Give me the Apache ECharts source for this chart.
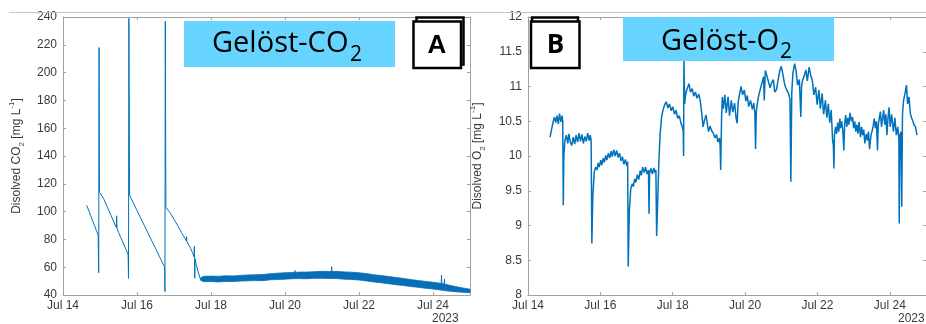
<!DOCTYPE html>
<html>
<head>
<meta charset="utf-8">
<script src="https://cdn.jsdelivr.net/npm/echarts@6/dist/echarts.min.js"></script>
<style>
html,body{margin:0;padding:0;background:#fff;}
#c{width:926px;height:324px;}
</style>
</head>
<body>
<div id="c"></div>
<script>
// ---------- DATA ----------
const xTickDays = [14, 16, 18, 20, 22, 24];
const xTickLabels = ['Jul 14', 'Jul 16', 'Jul 18', 'Jul 20', 'Jul 22', 'Jul 24'];
const yearLabel = '2023';

// Dissolved CO2 [mg/L] : [day of July, value]
const co2Points = [
  [14.64,104.5],[14.70,100.5],[14.75,97],[14.80,93.5],[14.85,90],[14.90,86.5],[14.95,83],
  [14.965,56],[14.975,218],[14.985,114],[15.02,114],[15.10,109.2],[15.20,103.1],[15.30,97.1],
  [15.40,91],[15.44,88.6],[15.45,97],[15.46,88],[15.50,85],[15.60,79],[15.70,73],[15.76,69],
  [15.77,52],[15.78,239],[15.80,112],[15.83,110],[15.90,106.3],[16.00,100.8],[16.10,95.3],
  [16.20,89.9],[16.30,84.4],[16.40,78.9],[16.50,73.5],[16.60,68],[16.70,62.6],[16.745,60.4],
  [16.755,42.5],[16.765,237],[16.78,103],[16.83,102.3],[16.90,99],[17.00,94.5],[17.10,90],
  [17.20,85],[17.30,80.5],[17.33,79],[17.34,82],[17.35,78.5],[17.40,76],[17.45,73.5],[17.50,70.5],
  [17.54,67.5],[17.55,75],[17.56,52],[17.57,66],[17.60,62],[17.65,57],[17.70,52.4],[17.73,50.8],
  [18.0,51.5],[18.5,51.6],[19.0,52.3],[19.5,53],[20.0,53.7],[20.26,54],[20.27,57.5],[20.28,54],
  [20.5,54.2],[21.0,54.5],[21.25,54.5],[21.26,60.4],[21.27,54.4],[22.0,53.4],[22.5,51.5],
  [23.0,49.9],[23.5,48.2],[24.0,46.7],[24.22,46],[24.23,54.4],[24.24,46],[24.30,45.8],
  [24.31,51.5],[24.32,45.5],[24.6,44.2],[25.0,42.8]
];

// Noise envelope of the CO2 signal after Jul 17.7
const co2BandDays = [17.72,17.8,18.0,18.2,18.4,18.6,18.8,19.0,19.2,19.4,19.6,19.8,20.0,20.2,20.4,20.6,20.8,21.0,21.2,21.4,21.6,21.8,22.0,22.2,22.4,22.6,22.8,23.0,23.2,23.4,23.6,23.8,24.0,24.2,24.4,24.6,24.8,25.0];
const co2BandLow  = [50.6,49.6,49.7,49.4,49.8,49.7,50.0,50.2,50.4,50.3,50.9,51.2,51.4,51.7,51.8,51.7,52.0,52.0,51.9,51.8,51.4,51.2,50.8,50.1,49.4,48.8,48.1,47.4,46.8,46.1,45.5,44.9,44.3,43.6,42.9,42.4,41.9,41.6];
const co2BandHigh = [52.4,53.4,53.6,53.5,53.8,53.7,54.1,54.4,54.6,54.7,55.3,55.7,56.0,56.2,56.5,56.5,56.8,57.0,56.9,57.0,56.6,56.4,56.0,55.4,54.6,54.0,53.3,52.6,51.9,51.1,50.4,49.8,49.2,48.4,47.3,46.1,45.1,44.2];

// Dissolved O2 [mg/L] : [day of July, value]
const o2Points = [
  [14.61,10.27],[14.65,10.38],[14.70,10.50],[14.73,10.56],[14.77,10.48],[14.80,10.58],[14.84,10.46],[14.87,10.61],[14.91,10.49],[14.94,10.58],[14.96,10.5],[14.975,9.29],[14.99,10.0],[15.02,10.22],
  [15.06,10.30],[15.10,10.18],[15.13,10.32],[15.17,10.20],[15.21,10.15],[15.25,10.27],[15.29,10.17],[15.33,10.30],[15.37,10.20],[15.41,10.33],[15.45,10.21],[15.49,10.31],[15.53,10.18],[15.57,10.28],[15.61,10.21],[15.65,10.33],[15.69,10.22],[15.72,10.30],[15.745,10.22],[15.765,8.74],[15.79,9.4],[15.83,9.77],
  [15.87,9.84],[15.91,9.80],[15.94,9.90],[15.97,9.84],[16.01,9.94],[16.04,9.87],[16.08,9.97],[16.11,9.91],[16.15,10.01],[16.18,9.94],[16.22,10.04],[16.26,9.97],[16.30,10.07],[16.33,9.99],[16.37,10.09],[16.41,10.00],[16.45,10.08],[16.49,9.98],[16.53,10.04],[16.57,9.93],[16.61,9.99],[16.65,9.88],[16.69,9.95],[16.73,9.86],[16.755,9.92],[16.77,8.41],[16.80,9.2],[16.84,9.53],
  [16.88,9.60],[16.91,9.56],[16.95,9.67],[16.98,9.62],[17.02,9.73],[17.06,9.66],[17.10,9.79],[17.13,9.72],[17.17,9.84],[17.21,9.76],[17.25,9.84],[17.29,9.74],[17.33,9.80],[17.345,9.17],[17.36,9.75],[17.40,9.82],[17.44,9.74],[17.48,9.83],[17.51,9.76],[17.535,9.80],[17.555,8.85],[17.59,9.45],[17.62,9.95],[17.65,10.30],[17.69,10.55],[17.73,10.66],[17.78,10.74],
  [17.82,10.78],[17.87,10.69],[17.91,10.75],[17.96,10.65],[18.00,10.71],[18.05,10.60],[18.09,10.66],[18.14,10.54],[18.18,10.58],[18.23,10.47],[18.27,10.41],[18.29,10.36],[18.30,10.00],[18.31,11.38],[18.33,10.75],[18.36,10.90],[18.40,10.97],[18.45,11.04],[18.49,10.92],[18.54,10.97],[18.58,10.86],[18.63,10.92],[18.67,10.83],[18.72,10.89],[18.76,10.80],
  [18.80,10.62],[18.84,10.42],[18.88,10.52],[18.92,10.59],[18.96,10.45],[18.99,10.35],[19.03,10.43],[19.08,10.36],[19.12,10.33],[19.17,10.26],[19.21,10.31],[19.25,10.20],[19.29,10.26],[19.31,10.15],[19.325,9.80],[19.35,10.55],[19.37,10.85],
  [19.40,10.68],[19.44,10.88],[19.48,10.62],[19.53,10.85],[19.57,10.58],[19.62,10.80],[19.66,10.63],[19.71,10.76],[19.75,10.55],[19.78,10.47],[19.81,10.78],[19.85,10.90],[19.89,11.00],[19.93,10.88],[19.98,10.95],[20.02,10.79],[20.06,10.87],[20.10,10.71],[20.15,10.80],[20.20,10.67],[20.24,10.76],[20.27,10.62],[20.29,10.10],[20.31,10.64],[20.34,10.76],
  [20.38,10.88],[20.42,10.96],[20.47,11.06],[20.51,11.14],[20.53,10.80],[20.56,11.23],[20.60,11.16],[20.64,11.08],[20.69,10.98],[20.73,11.05],[20.78,11.10],[20.82,10.92],[20.87,10.96],[20.91,11.09],[20.96,11.23],[21.00,11.29],[21.05,11.16],[21.09,11.04],[21.12,10.99],[21.16,10.94],[21.20,10.90],[21.24,10.82],[21.265,9.63],[21.29,10.90],[21.32,11.19],[21.37,11.33],[21.41,11.22],[21.45,11.02],[21.50,11.10],[21.54,10.56],[21.56,11.00],[21.59,11.09],[21.64,11.16],[21.68,11.24],[21.72,11.08],[21.77,11.28],[21.81,11.17],[21.86,11.08],[21.90,10.88],[21.95,10.99],[21.99,10.74],[22.04,10.95],[22.08,10.68],[22.13,10.90],[22.17,10.60],[22.22,10.80],[22.26,10.55],[22.30,10.75],[22.34,10.48],[22.38,10.66],[22.42,10.22],[22.44,10.15],[22.455,9.82],[22.47,10.30],
  [22.50,10.42],[22.53,10.32],[22.56,10.48],[22.59,10.35],[22.62,10.54],[22.64,10.40],[22.67,10.50],[22.70,10.37],[22.73,10.08],[22.75,10.45],[22.78,10.59],[22.81,10.42],[22.84,10.55],[22.87,10.45],[22.90,10.62],[22.94,10.50],[22.97,10.56],[23.00,10.40],[23.03,10.50],[23.06,10.35],[23.09,10.45],[23.12,10.32],[23.15,10.49],[23.19,10.27],[23.22,10.42],[23.25,10.30],[23.28,10.38],[23.31,10.18],[23.35,10.32],[23.38,10.22],[23.41,10.35],[23.44,10.10],[23.48,10.30],[23.51,10.36],[23.54,10.43],[23.57,10.54],[23.60,10.40],[23.63,10.50],[23.66,10.08],[23.68,10.45],[23.71,10.55],[23.74,10.64],[23.77,10.42],[23.80,10.54],[23.83,10.66],[23.86,10.45],[23.89,10.60],[23.92,10.30],[23.95,10.55],[23.98,10.70],[24.01,10.42],[24.05,10.60],[24.10,10.35],[24.14,10.55],[24.18,10.30],[24.22,10.42],[24.25,10.25],[24.26,9.03],[24.28,10.30],[24.31,10.35],[24.33,9.27],[24.35,10.60],[24.38,10.80],[24.42,10.90],[24.46,11.02],[24.49,10.75],[24.53,10.85],[24.57,10.60],[24.60,10.55],[24.63,10.51],[24.67,10.45],[24.71,10.42],[24.75,10.30]
];

// ---------- STYLE ----------
const FONT = '"Liberation Sans", Arial, Helvetica, sans-serif';
const TITLE_FONT = '"Open Sans", "Noto Sans", sans-serif';
const AXIS_COLOR = '#a3a3a3';
const LABEL_COLOR = '#3a3a3a';
const LINE_COLOR = '#0072BD';
const BAND_COLOR = '#0a6db6';
const BOX_COLOR = '#66d4ff';

const chart = echarts.init(document.getElementById('c'), null, {renderer: 'canvas'});

function xAxes(gridIndex) {
  const base = {
    type: 'value', gridIndex, min: 14, max: 25, interval: 2,
    axisLine: {onZero: false, lineStyle: {color: AXIS_COLOR, width: 1}},
    axisTick: {inside: true, length: 3, lineStyle: {color: AXIS_COLOR}},
    splitLine: {show: false}
  };
  return [
    Object.assign({}, base, {
      position: 'bottom',
      axisLabel: {
        formatter: v => { const i = xTickDays.indexOf(v); return i >= 0 ? xTickLabels[i] : ''; },
        showMaxLabel: false, color: LABEL_COLOR, fontFamily: FONT, fontSize: 12, margin: 5
      }
    }),
    Object.assign({}, base, {position: 'top', axisLabel: {show: false}})
  ];
}

function yAxes(gridIndex, min, max, interval, name, nameGap) {
  const base = {
    type: 'value', gridIndex, min, max, interval,
    axisLine: {show: true, onZero: false, lineStyle: {color: AXIS_COLOR, width: 1}},
    axisTick: {show: true, inside: true, length: 3, lineStyle: {color: AXIS_COLOR}},
    splitLine: {show: false}
  };
  return [
    Object.assign({}, base, {
      position: 'left',
      name, nameLocation: 'middle', nameGap,
      nameTextStyle: {
        color: LABEL_COLOR, fontFamily: FONT, fontSize: 12, lineHeight: 18,
        rich: {
          sub: {fontSize: 8, fontFamily: FONT, color: LABEL_COLOR, verticalAlign: 'bottom', lineHeight: 10},
          sup: {fontSize: 8, fontFamily: FONT, color: LABEL_COLOR, verticalAlign: 'top', lineHeight: 10}
        }
      },
      axisLabel: {color: LABEL_COLOR, fontFamily: FONT, fontSize: 12, margin: 6}
    }),
    Object.assign({}, base, {position: 'right', axisLabel: {show: false}})
  ];
}

const option = {
  animation: false,
  backgroundColor: '#fff',
  grid: [
    {left: 63, top: 17, width: 407, height: 278},
    {left: 528, top: 17, width: 408.7, height: 278}
  ],
  xAxis: [...xAxes(0), ...xAxes(1)],
  yAxis: [
    ...yAxes(0, 40, 240, 20, 'Disolved CO{sub|2} [mg L{sup|-1}]', 37),
    ...yAxes(1, 8, 12, 0.5, 'Disolved O{sub|2} [mg L{sup|-1}]', 41)
  ],
  series: [
    {
      type: 'custom', name: 'CO2 noise band', xAxisIndex: 0, yAxisIndex: 0, silent: true,
      data: co2BandDays.map((d, i) => [d, co2BandLow[i], co2BandHigh[i]]),
      encode: {x: 0, y: [1, 2]},
      renderItem: (params, api) => {
        if (params.dataIndex !== 0) return null;
        const pts = [];
        for (let i = 0; i < co2BandDays.length; i++) pts.push(api.coord([co2BandDays[i], co2BandHigh[i]]));
        for (let i = co2BandDays.length - 1; i >= 0; i--) pts.push(api.coord([co2BandDays[i], co2BandLow[i]]));
        return {type: 'polygon', shape: {points: pts}, style: {fill: BAND_COLOR, stroke: BAND_COLOR, lineWidth: 0.8}};
      }
    },
    {
      type: 'line', name: 'CO2', xAxisIndex: 0, yAxisIndex: 0,
      data: co2Points, showSymbol: false, symbol: 'none',
      lineStyle: {color: LINE_COLOR, width: 1}, silent: true
    },
    {
      type: 'line', name: 'O2', xAxisIndex: 2, yAxisIndex: 2,
      data: o2Points, showSymbol: false, symbol: 'none',
      lineStyle: {color: LINE_COLOR, width: 1.5}, silent: true
    }
  ],
  graphic: {
    elements: [
      {type: 'line', z: 100, shape: {x1: 9, y1: 12.5, x2: 926, y2: 12.5}, style: {stroke: '#c6c6c6', lineWidth: 1}},
      // CO2 title
      {type: 'rect', z: 100, shape: {x: 184, y: 21, width: 211, height: 46}, style: {fill: BOX_COLOR}},
      {type: 'text', z: 101, x: 212, y: 44, style: {text: 'Gelöst-CO', fontSize: 29, fontFamily: TITLE_FONT, fill: '#000', align: 'left', verticalAlign: 'middle'}},
      {type: 'text', z: 101, x: 350, y: 55, style: {text: '2', fontSize: 21, fontFamily: TITLE_FONT, fill: '#000', align: 'left', verticalAlign: 'middle'}},
      // A box
      {type: 'rect', z: 100, shape: {x: 416.5, y: 17.5, width: 47, height: 47}, style: {fill: '#fff', stroke: '#000', lineWidth: 2.5}},
      {type: 'rect', z: 101, shape: {x: 413.5, y: 21.5, width: 47.5, height: 46.5}, style: {fill: '#fff', stroke: '#000', lineWidth: 2.5}},
      {type: 'text', z: 102, x: 437, y: 46, style: {text: 'A', fontSize: 26, fontWeight: 'bold', fontFamily: FONT, fill: '#000', align: 'center', verticalAlign: 'middle'}},
      // O2 title
      {type: 'rect', z: 100, shape: {x: 623, y: 17, width: 211, height: 44}, style: {fill: BOX_COLOR}},
      {type: 'text', z: 101, x: 661, y: 42, style: {text: 'Gelöst-O', fontSize: 29, fontFamily: TITLE_FONT, fill: '#000', align: 'left', verticalAlign: 'middle'}},
      {type: 'text', z: 101, x: 780, y: 52.5, style: {text: '2', fontSize: 21, fontFamily: TITLE_FONT, fill: '#000', align: 'left', verticalAlign: 'middle'}},
      // B box
      {type: 'rect', z: 100, shape: {x: 532, y: 17.5, width: 46, height: 44}, style: {fill: '#fff', stroke: '#000', lineWidth: 2.5}},
      {type: 'rect', z: 101, shape: {x: 531, y: 21.5, width: 48.5, height: 46.5}, style: {fill: '#fff', stroke: '#000', lineWidth: 2.5}},
      {type: 'text', z: 102, x: 555.5, y: 46, style: {text: 'B', fontSize: 26, fontWeight: 'bold', fontFamily: TITLE_FONT, fill: '#000', align: 'center', verticalAlign: 'middle'}},
      // year labels
      {type: 'text', z: 100, x: 432, y: 318.5, style: {text: yearLabel, fontSize: 12, fontFamily: FONT, fill: LABEL_COLOR, align: 'left', verticalAlign: 'middle'}},
      {type: 'text', z: 100, x: 898, y: 318.5, style: {text: yearLabel, fontSize: 12, fontFamily: FONT, fill: LABEL_COLOR, align: 'left', verticalAlign: 'middle'}}
    ]
  }
};
chart.setOption(option);
</script>
</body>
</html>
